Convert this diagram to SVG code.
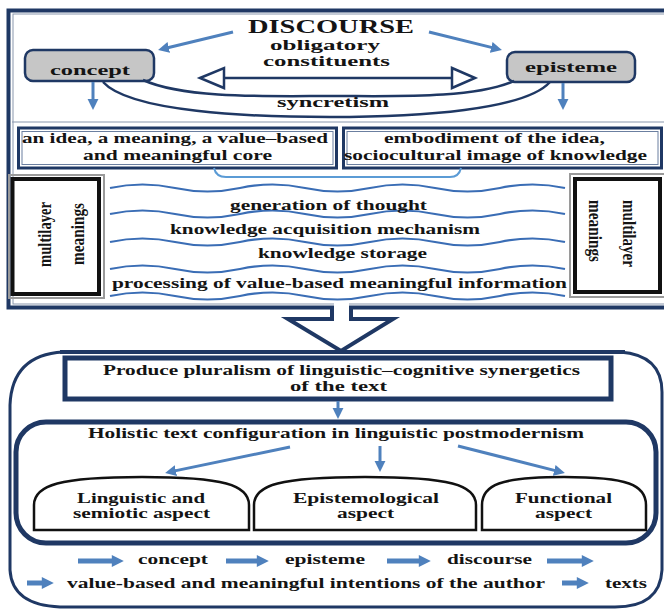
<svg xmlns="http://www.w3.org/2000/svg" width="664" height="610" viewBox="0 0 664 610">
<defs>
<style>
.t{font-family:'Liberation Serif','Times New Roman',serif;font-weight:bold;fill:#141414;text-anchor:middle}
.nv{fill:none;stroke:#1f3864}
.bl{fill:none;stroke:#4f81bd;stroke-width:3}
.bb{fill:none;stroke:#4f81bd;stroke-width:5}
.wv{fill:none;stroke:#3a6db5;stroke-width:2.2}
.dome{fill:#fff;stroke:#111;stroke-width:2.5}
</style>
<marker id="ah" viewBox="0 0 10 10" refX="1" refY="5" markerWidth="11" markerHeight="12" markerUnits="userSpaceOnUse" orient="auto"><path d="M0,0 L10,5 L0,10 Z" fill="#4f81bd"/></marker>
<marker id="ahb" viewBox="0 0 10 10" refX="1" refY="5" markerWidth="13" markerHeight="12" markerUnits="userSpaceOnUse" orient="auto"><path d="M0,0 L10,5 L0,10 Z" fill="#4f81bd"/></marker>
</defs>
<rect width="664" height="610" fill="#fff"/>

<g id="top-frame">
<rect x="8.5" y="10.5" width="670" height="297" class="nv" stroke-width="4"/>
<rect x="13" y="14" width="660" height="290" fill="none" stroke="#8a97ad" stroke-width="1"/>
<line x1="12" y1="122" x2="664" y2="122" stroke="#8a97ad" stroke-width="1.2"/>
</g>

<g id="discourse">
<text class="t" x="331" y="33" font-size="19" textLength="166" lengthAdjust="spacingAndGlyphs">DISCOURSE</text>
<text class="t" x="325" y="50" font-size="15" textLength="110" lengthAdjust="spacingAndGlyphs">obligatory</text>
<text class="t" x="326.5" y="66" font-size="15" textLength="127" lengthAdjust="spacingAndGlyphs">constituents</text>
</g>

<g id="concept">
<rect x="25" y="50" width="129" height="31" rx="8" fill="#c6c6c6" stroke="#1f3864" stroke-width="2.5"/>
<text class="t" x="90" y="75" font-size="15" textLength="80" lengthAdjust="spacingAndGlyphs">concept</text>
</g>

<g id="episteme">
<rect x="507" y="52" width="128" height="30" rx="8" fill="#c6c6c6" stroke="#1f3864" stroke-width="2.5"/>
<text class="t" x="571" y="72" font-size="15" textLength="92" lengthAdjust="spacingAndGlyphs">episteme</text>
</g>

<g id="syncretism">
<path d="M143,80 C185,99 270,96 332,96 C394,96 474,99 514,81" class="nv" stroke-width="2.5"/>
<path d="M103,82 C130,112 250,117 330,117 C420,117 525,110 550,82" class="nv" stroke-width="2.5"/>
<text class="t" x="333" y="107" font-size="15" textLength="112" lengthAdjust="spacingAndGlyphs">syncretism</text>
</g>

<g id="idea-left">
<rect x="18.5" y="128" width="318" height="40" class="nv" stroke-width="3" fill="#fff"/>
<rect x="22" y="131.5" width="311" height="33" fill="none" stroke="#6b7fa0" stroke-width="1"/>
<text class="t" x="175" y="143" font-size="14" textLength="306" lengthAdjust="spacingAndGlyphs">an idea, a meaning, a value–based</text>
<text class="t" x="177.5" y="160" font-size="14" textLength="189" lengthAdjust="spacingAndGlyphs">and meaningful core</text>
</g>

<g id="idea-right">
<rect x="343.5" y="128" width="318" height="40" class="nv" stroke-width="3" fill="#fff"/>
<rect x="347" y="131.5" width="311" height="33" fill="none" stroke="#6b7fa0" stroke-width="1"/>
<text class="t" x="494.5" y="143" font-size="14" textLength="221" lengthAdjust="spacingAndGlyphs">embodiment of the idea,</text>
<text class="t" x="495.5" y="160" font-size="14" textLength="303" lengthAdjust="spacingAndGlyphs">sociocultural image of knowledge</text>
</g>

<g id="brace">
<path d="M214,168 Q216,177 226,177 L450,177 Q459,177 461,168" fill="none" stroke="#5b9bd5" stroke-width="2"/>
</g>

<g id="multilayer-left">
<rect x="9" y="175" width="95" height="123" fill="none" stroke="#9a9a9a" stroke-width="2"/>
<rect x="12.5" y="179" width="86.5" height="115" fill="#fff" stroke="#111" stroke-width="4"/>
<text class="t" font-size="19" transform="translate(50.5,234.5) rotate(-90)" textLength="65" lengthAdjust="spacingAndGlyphs">multilayer</text>
<text class="t" font-size="19" transform="translate(84,234) rotate(-90)" textLength="62" lengthAdjust="spacingAndGlyphs">meanings</text>
</g>

<g id="multilayer-right">
<rect x="570" y="174" width="95" height="123" fill="none" stroke="#9a9a9a" stroke-width="2"/>
<rect x="575" y="179" width="85" height="113" fill="#fff" stroke="#111" stroke-width="4"/>
<text class="t" font-size="19" transform="translate(623,233.5) rotate(90)" textLength="67" lengthAdjust="spacingAndGlyphs">multilayer</text>
<text class="t" font-size="19" transform="translate(589,231) rotate(90)" textLength="62" lengthAdjust="spacingAndGlyphs">meanings</text>
</g>

<g id="layers">
<path class="wv" d="M110,188 q32.5,-7 65,0 t65,0 t65,0 t65,0 t65,0 t65,0 t65,0"/>
<path class="wv" d="M110,214 q32.5,-7 65,0 t65,0 t65,0 t65,0 t65,0 t65,0 t65,0"/>
<path class="wv" d="M110,242 q32.5,-7 65,0 t65,0 t65,0 t65,0 t65,0 t65,0 t65,0"/>
<path class="wv" d="M110,269 q32.5,-7 65,0 t65,0 t65,0 t65,0 t65,0 t65,0 t65,0"/>
<path class="wv" d="M110,296 q32.5,-7 65,0 t65,0 t65,0 t65,0 t65,0 t65,0 t65,0"/>
<text class="t" x="328.5" y="210" font-size="14" textLength="197" lengthAdjust="spacingAndGlyphs">generation of thought</text>
<text class="t" x="325" y="234" font-size="14" textLength="310" lengthAdjust="spacingAndGlyphs">knowledge acquisition mechanism</text>
<text class="t" x="342.5" y="258" font-size="14" textLength="169" lengthAdjust="spacingAndGlyphs">knowledge storage</text>
<text class="t" x="339.5" y="288" font-size="14" textLength="455" lengthAdjust="spacingAndGlyphs">processing of value-based meaningful information</text>
</g>

<g id="bottom-frame">
<path d="M63,352 L620,352 Q662,355 662,392 L662,570 Q660,607 615,607 L60,607 Q12,605 10,570 L10,405 Q12,355 63,352 Z" class="nv" stroke-width="3" fill="none"/>
</g>

<g id="produce">
<rect x="65" y="358" width="546" height="41" fill="#fff" stroke="#1f3864" stroke-width="5"/>
<text class="t" x="341.5" y="375" font-size="14" textLength="477" lengthAdjust="spacingAndGlyphs">Produce pluralism of linguistic–cognitive synergetics</text>
<text class="t" x="338.5" y="391" font-size="14" textLength="97" lengthAdjust="spacingAndGlyphs">of the text</text>
</g>

<g id="holistic">
<rect x="16" y="422" width="640" height="121" rx="30" fill="none" stroke="#1f3864" stroke-width="5"/>
<text class="t" x="336" y="438" font-size="14" textLength="496" lengthAdjust="spacingAndGlyphs">Holistic text configuration in linguistic postmodernism</text>
</g>

<g id="aspect-linguistic">
<path class="dome" d="M34,530 L34,505 C34,485 60,477 142,477 C224,477 249,485 249,505 L249,530 Z"/>
<text class="t" x="141" y="503" font-size="14" textLength="128" lengthAdjust="spacingAndGlyphs">Linguistic and</text>
<text class="t" x="141.5" y="518" font-size="14" textLength="137" lengthAdjust="spacingAndGlyphs">semiotic aspect</text>
</g>
<g id="aspect-epistemological">
<path class="dome" d="M254,530 L254,505 C254,485 280,477 365,477 C450,477 476,485 476,505 L476,530 Z"/>
<text class="t" x="366" y="503" font-size="14" textLength="146" lengthAdjust="spacingAndGlyphs">Epistemological</text>
<text class="t" x="365.5" y="518" font-size="14" textLength="57" lengthAdjust="spacingAndGlyphs">aspect</text>
</g>
<g id="aspect-functional">
<path class="dome" d="M482,530 L482,505 C482,485 500,477 564,477 C628,477 646,485 646,505 L646,530 Z"/>
<text class="t" x="563.5" y="503" font-size="14" textLength="97" lengthAdjust="spacingAndGlyphs">Functional</text>
<text class="t" x="563.5" y="518" font-size="14" textLength="57" lengthAdjust="spacingAndGlyphs">aspect</text>
</g>

<g id="sequence">
<text class="t" x="173" y="564" font-size="14" textLength="70" lengthAdjust="spacingAndGlyphs">concept</text>
<text class="t" x="325" y="564" font-size="14" textLength="80" lengthAdjust="spacingAndGlyphs">episteme</text>
<text class="t" x="489.5" y="564" font-size="14" textLength="85" lengthAdjust="spacingAndGlyphs">discourse</text>
<text class="t" x="306" y="588" font-size="14" textLength="478" lengthAdjust="spacingAndGlyphs">value-based and meaningful intentions of the author</text>
<text class="t" x="626" y="588" font-size="14" textLength="42" lengthAdjust="spacingAndGlyphs">texts</text>
</g>

<g id="connectors">
<line class="bl" x1="233" y1="32" x2="167.7" y2="47.7" marker-end="url(#ah)"/>
<line class="bl" x1="429" y1="32" x2="492.3" y2="47.6" marker-end="url(#ah)"/>
<line class="bl" x1="93" y1="82" x2="93" y2="100" marker-end="url(#ah)"/>
<line class="bl" x1="563" y1="83" x2="563" y2="100" marker-end="url(#ah)"/>
<line x1="224" y1="78" x2="452" y2="78" class="nv" stroke-width="2.5"/>
<polygon points="200,78 224,68 224,88" fill="#fff" stroke="#1f3864" stroke-width="2.5"/>
<polygon points="475,78 452,68 452,88" fill="#fff" stroke="#1f3864" stroke-width="2.5"/>
<polygon points="334,303 334,319 288,319 341,351 393,319 349,319 349,303" fill="#fff" stroke="none"/>
<path d="M332,306 L332,319 L288,319 L341,351 L393,319 L351,319 L351,306" fill="none" stroke="#1f3864" stroke-width="4"/>
<line x1="60" y1="352" x2="625" y2="352" stroke="#1f3864" stroke-width="4"/>
<line class="bl" x1="338" y1="401" x2="338" y2="409" marker-end="url(#ah)"/>
<line class="bl" x1="290" y1="447" x2="174.8" y2="470.9" marker-end="url(#ah)"/>
<line class="bl" x1="380" y1="446" x2="380" y2="462" marker-end="url(#ah)"/>
<line class="bl" x1="458" y1="446" x2="555.3" y2="470.6" marker-end="url(#ah)"/>
<line class="bb" x1="78" y1="561" x2="113" y2="561" marker-end="url(#ahb)"/>
<line class="bb" x1="226" y1="561" x2="258" y2="561" marker-end="url(#ahb)"/>
<line class="bb" x1="387" y1="561" x2="420" y2="561" marker-end="url(#ahb)"/>
<line class="bb" x1="547" y1="561" x2="583" y2="561" marker-end="url(#ahb)"/>
<line class="bb" x1="27" y1="583" x2="43" y2="583" marker-end="url(#ahb)"/>
<line class="bb" x1="562" y1="583" x2="578" y2="583" marker-end="url(#ahb)"/>
</g>
</svg>
